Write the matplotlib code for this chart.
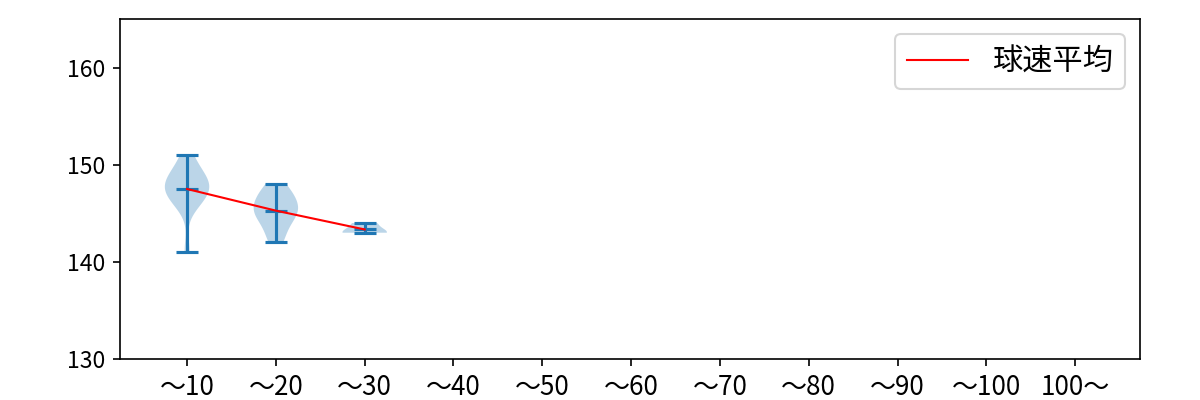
import matplotlib
matplotlib.use("Agg")
import matplotlib.pyplot as plt
import numpy as np

plt.rcParams['font.family'] = ['Noto Sans CJK JP', 'DejaVu Sans']

categories = ["～10", "～20", "～30", "～40", "～50", "～60", "～70", "～80", "～90", "～100", "100～"]
speeds_10 = [141, 146, 146, 147, 147, 147, 148, 148, 148, 148, 149, 149, 150, 151]
speeds_20 = [142, 143, 144, 145, 145, 145, 146, 146, 147, 147, 148]
speeds_30 = [143, 143, 144]
series = [speeds_10, speeds_20, speeds_30]
legend_label = "球速平均"

fig = plt.figure(figsize=(8, 8 / 3), dpi=150)
ax = fig.add_axes([0.1, 0.1025, 0.85, 0.85])

positions = list(range(1, len(series) + 1))
vp = ax.violinplot(series, positions=positions, showmeans=True, showextrema=True)

means = [np.mean(s) for s in series]
ax.plot(positions, means, color="red", linewidth=1, label=legend_label)

ax.set_xticks(range(1, len(categories) + 1))
ax.set_xticklabels(categories)
ax.set_xlim(0.245, 11.73)
ax.set_ylim(130, 165)
ax.set_yticks([130, 140, 150, 160])
ax.tick_params(axis="x", labelsize=12.5)
ax.tick_params(axis="y", labelsize=11)
ax.legend(loc="upper right", fontsize=14.5)

fig.savefig("out.png", dpi=150)
